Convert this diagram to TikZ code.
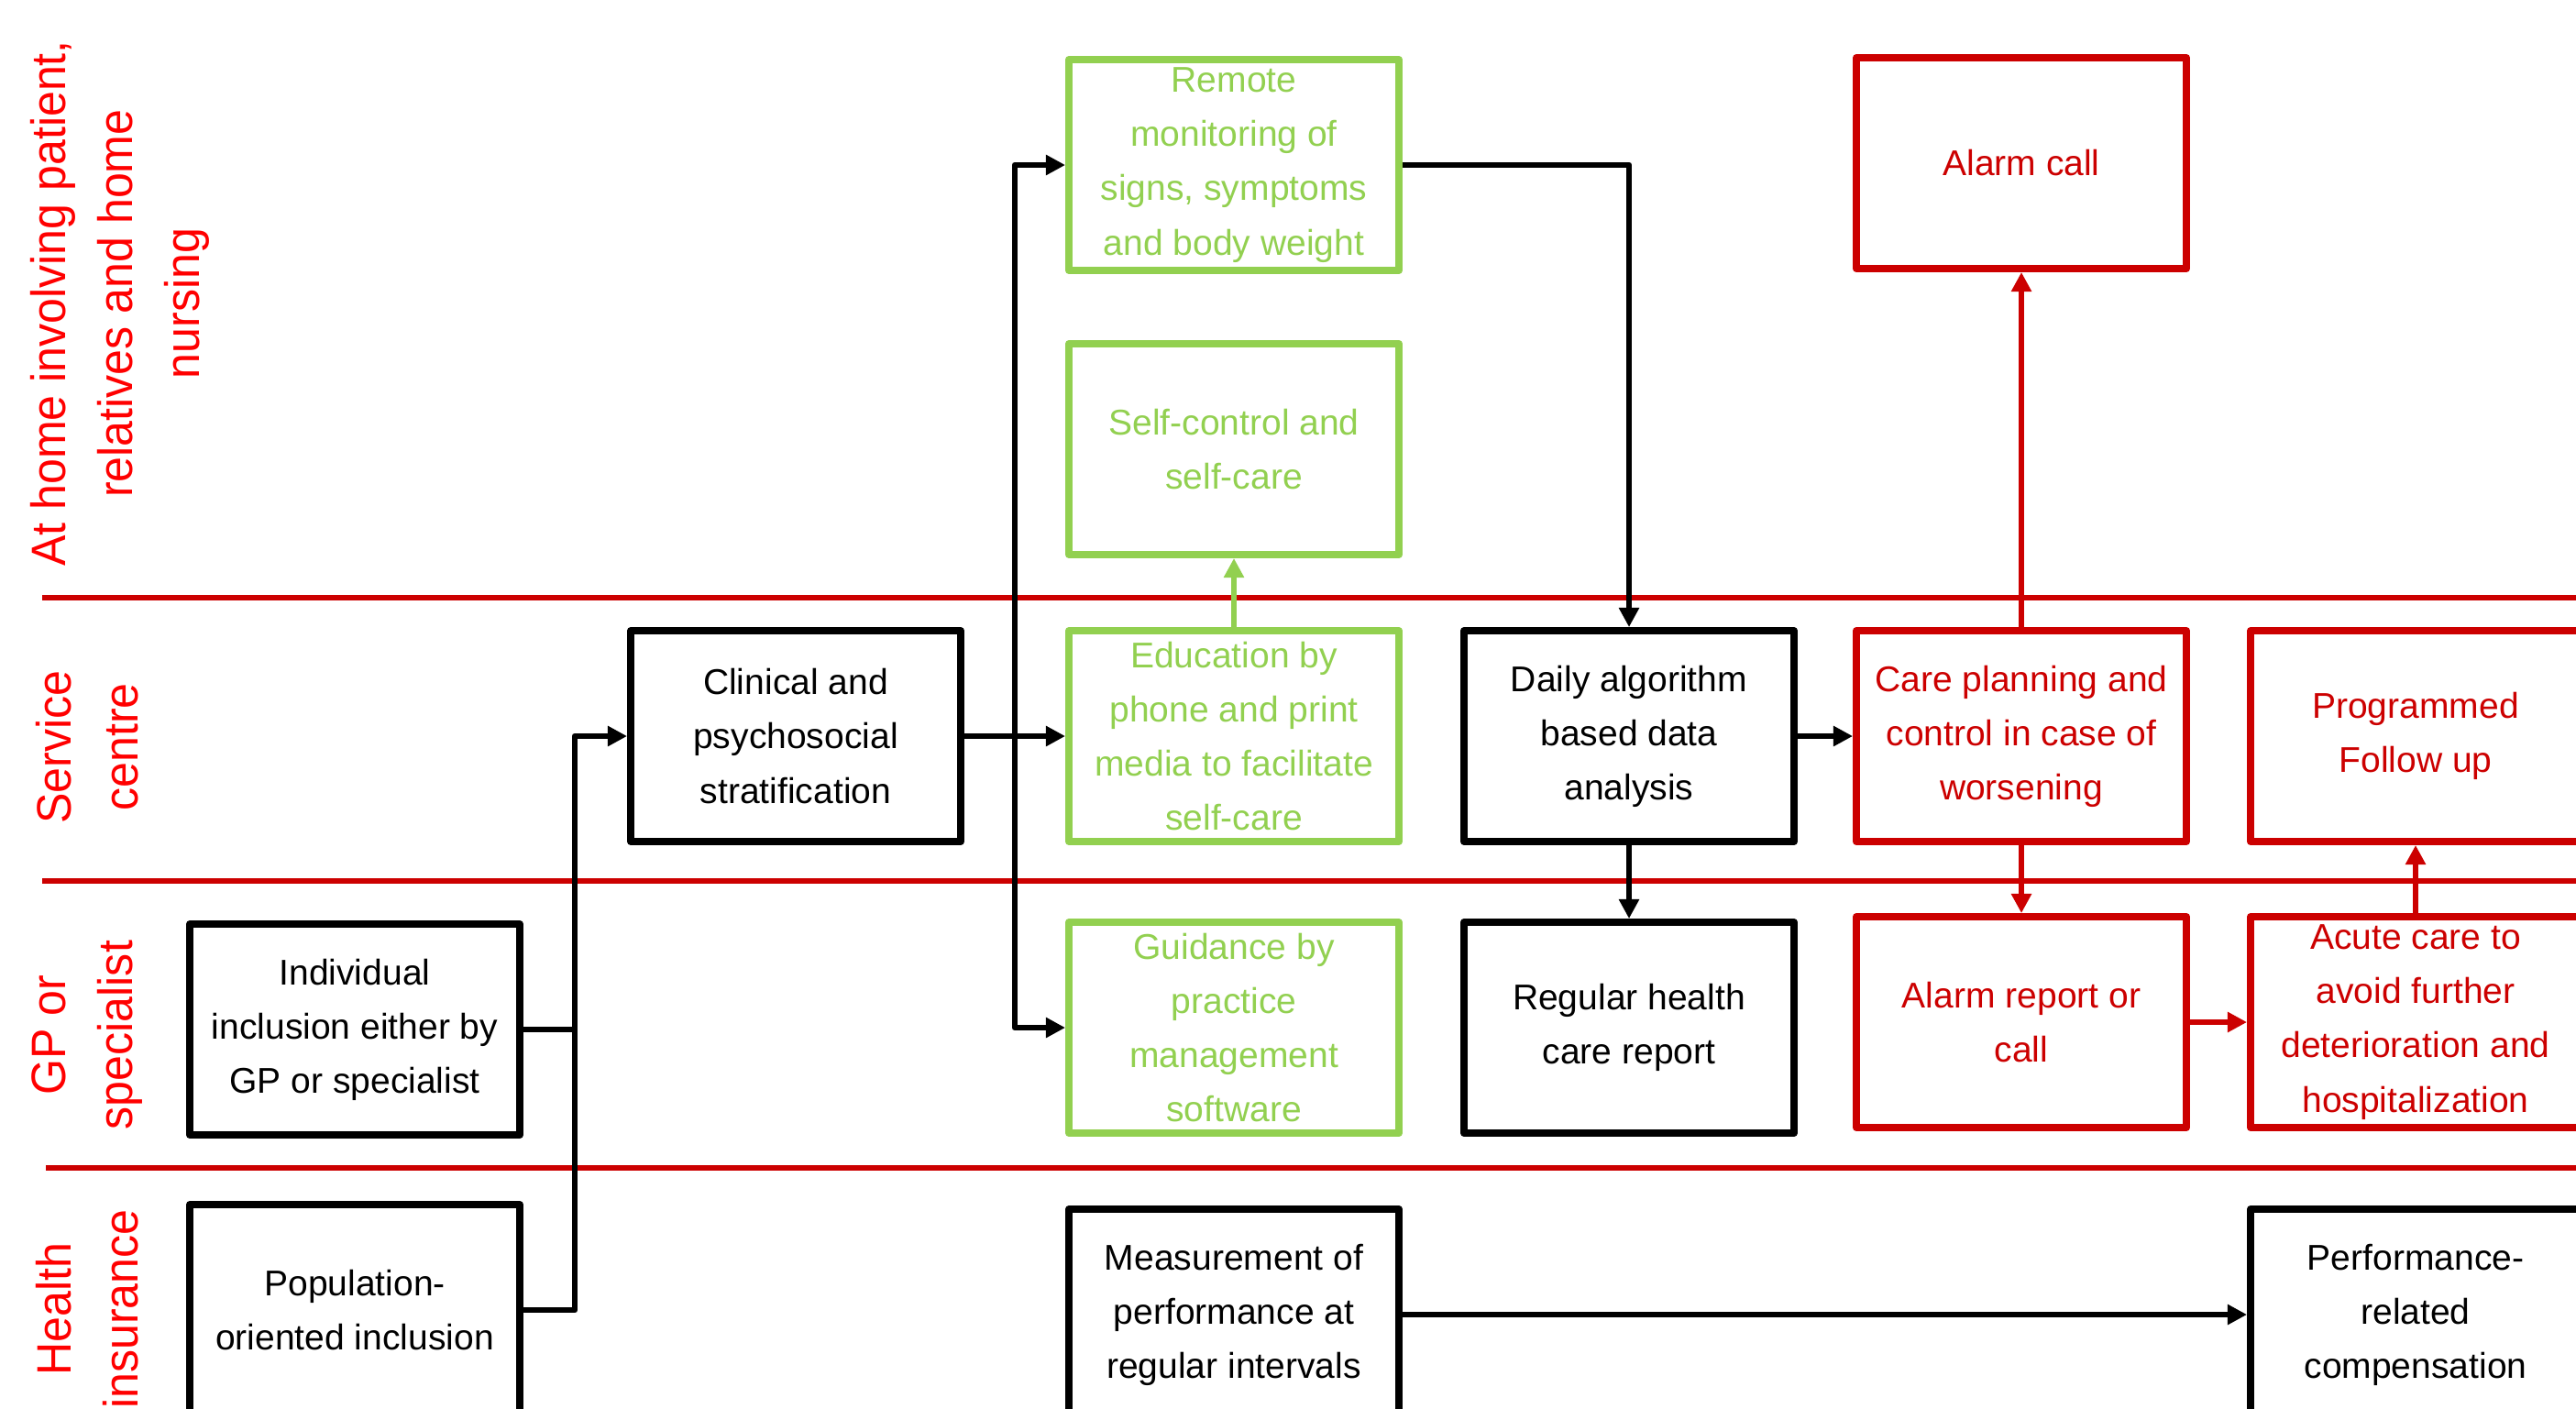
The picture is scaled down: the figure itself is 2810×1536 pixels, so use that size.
\documentclass[tikz,border=0pt]{standalone}
\usepackage{fontspec}
\setmainfont{Liberation Sans}
\newfontfamily\lanefont[FakeStretch=0.95]{Liberation Sans}
\usetikzlibrary{arrows.meta}
\definecolor{lgreen}{HTML}{92D050}
\definecolor{dred}{HTML}{CC0000}
\definecolor{lred}{HTML}{FF0000}
\begin{document}
\begin{tikzpicture}[x=0.01cm,y=-0.01cm,
  box/.style={draw, line width=2.2pt, minimum width=3.6cm, minimum height=2.3cm,
    inner sep=0pt, align=center, line join=round,
    font=\fontsize{11.1}{16.8}\selectfont},
  bbox/.style={box, draw=black, text=black},
  gbox/.style={box, draw=lgreen, text=lgreen},
  rbox/.style={box, draw=dred, text=dred},
  plainln/.style={line width=1.9pt, line join=round},
  conn/.style={plainln, -{Triangle[length=6pt,width=6pt]}},
  lane/.style={rotate=90, align=center, text=lred,
    font=\lanefont\fontsize{15}{20.7}\selectfont},
  sepline/.style={draw=dred, line width=1.8pt}]
\useasboundingbox (0,0) rectangle (2810,1536);
\fill[white] (0,0) rectangle (2810,1536);

% lane separators
\draw[sepline] (46,652) -- (2810,652);
\draw[sepline] (46,961) -- (2810,961);
\draw[sepline] (50,1274) -- (2810,1274);

% lane labels
\node[lane] (l1) at (131,331) {At home involving patient,\\relatives and home\\nursing};
\node[lane] (l2) at (95,815) {Service\\centre};
\node[lane] (l3) at (95,1129) {GP or\\specialist};
\node[lane] (l4) at (95,1428) {Health\\insurance};

% boxes
\node[bbox] (indiv) at (387,1123) {Individual\\inclusion either by\\GP or specialist};
\node[bbox] (pop) at (387,1429) {Population-\\oriented inclusion};
\node[bbox] (clin) at (868,803) {Clinical and\\psychosocial\\stratification};
\node[gbox] (remote) at (1346,180) {Remote\\monitoring of\\signs, symptoms\\and body weight};
\node[gbox] (self) at (1346,490) {Self-control and\\self-care};
\node[gbox] (edu) at (1346,803) {Education by\\phone and print\\media to facilitate\\self-care};
\node[gbox] (guid) at (1346,1121) {Guidance by\\practice\\management\\software};
\node[bbox] (meas) at (1346,1434) {Measurement of\\performance at\\regular intervals};
\node[bbox] (daily) at (1777,803) {Daily algorithm\\based data\\analysis};
\node[bbox] (reg) at (1777,1121) {Regular health\\care report};
\node[rbox] (alarm) at (2205,178) {Alarm call};
\node[rbox] (care) at (2205,803) {Care planning and\\control in case of\\worsening};
\node[rbox] (arep) at (2205,1115) {Alarm report or\\call};
\node[rbox] (prog) at (2635,803) {Programmed\\Follow up};
\node[rbox] (acute) at (2635,1115) {Acute care to\\avoid further\\deterioration and\\hospitalization};
\node[bbox] (perf) at (2635,1434) {Performance-\\related\\compensation};

% junction columns
\coordinate (jA) at (627,0);
\coordinate (jB) at (1107,0);

% connectors
\draw[plainln] (indiv.east) -- (indiv.east -| jA);
\draw[conn] (pop.east) -- (pop.east -| jA) -- (clin.west -| jA) -- (clin.west);
\draw[conn] (clin.east) -- (edu.west);
\draw[conn] (clin.east -| jB) -- (remote.west -| jB) -- (remote.west);
\draw[conn] (clin.east -| jB) -- (guid.west -| jB) -- (guid.west);
\draw[conn] (remote.east) -| (daily.north);
\draw[conn, draw=lgreen, fill=lgreen] (edu.north) -- (self.south);
\draw[conn] (daily.east) -- (care.west);
\draw[conn] (daily.south) -- (reg.north);
\draw[conn, draw=dred, fill=dred] (care.north) -- (alarm.south);
\draw[conn, draw=dred, fill=dred] (care.south) -- (arep.north);
\draw[conn, draw=dred, fill=dred] (arep.east) -- (acute.west);
\draw[conn, draw=dred, fill=dred] (acute.north) -- (prog.south);
\draw[conn] (meas.east) -- (perf.west);
\end{tikzpicture}
\end{document}
